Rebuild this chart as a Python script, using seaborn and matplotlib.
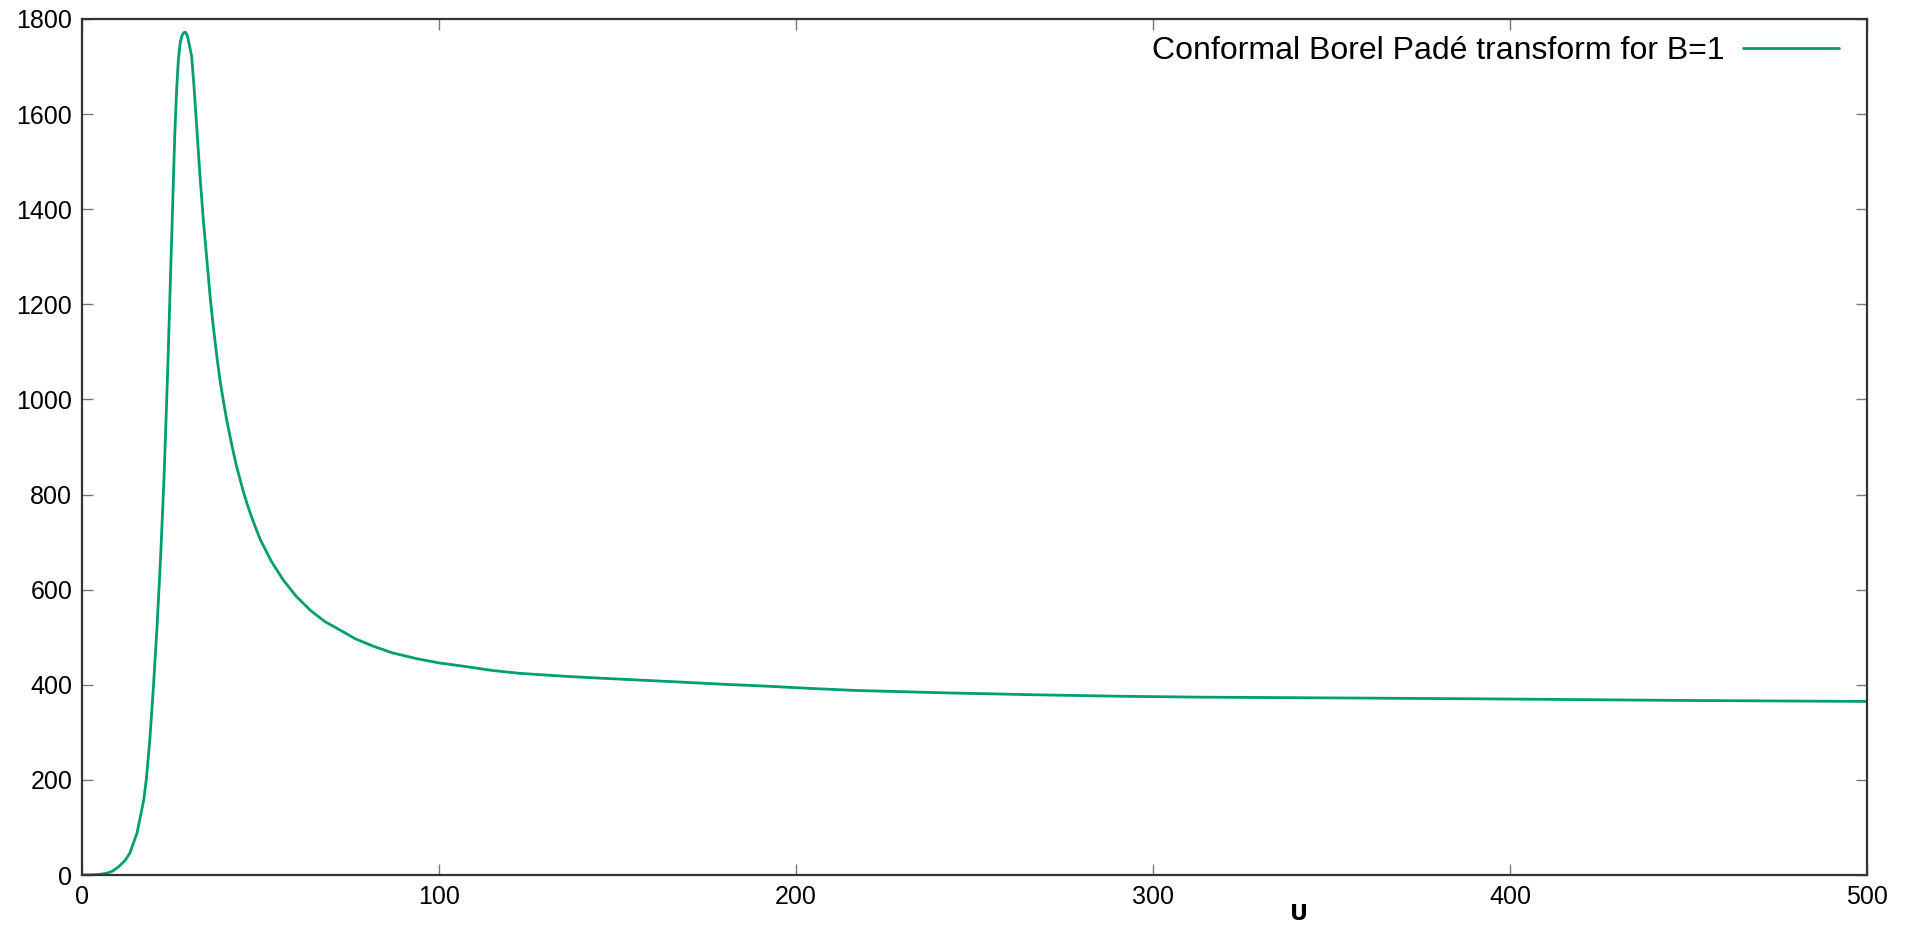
import matplotlib
matplotlib.use("Agg")
import matplotlib.pyplot as plt
import seaborn as sns
import pandas as pd

# Data
u_values = [0, 3, 5, 7, 8.5, 10.2, 12, 13.4, 15.4, 17.3, 18, 19, 20, 21, 22, 23, 24, 25,
            26, 26.5, 27, 27.5, 28, 28.5, 29, 29.5, 30, 30.7, 31.4, 32.1, 33, 34, 35, 35.9,
            36.8, 37.7, 38.6, 39.6, 40.5, 41.5, 42.4, 43.3, 44.3, 45.2, 46.3, 47.5, 48.7, 49.9,
            53, 56.4, 60, 63.9, 68, 72.3,
            76.5, 81.6, 87, 93.7, 100, 107.8, 115, 122.7, 135, 145, 156, 167, 180, 192, 205,
            217, 242, 267, 290, 313, 360, 400, 450, 500]
v_values = [0, 0.5, 1.5, 4, 8, 17, 30, 46, 88, 158, 200, 285, 395, 520, 665, 840, 1060, 1310,
            1560, 1650, 1715, 1750, 1765, 1771, 1772, 1765, 1748, 1722, 1655, 1577, 1475, 1376, 1292, 1215,
            1152, 1095, 1043, 997, 958, 921, 889, 859, 831, 806, 779, 753, 729, 706,
            660, 620, 586, 557, 533, 515,
            497, 481, 467, 455, 446, 438, 430, 424, 418, 414, 410, 406, 401, 397, 392,
            388, 383, 379, 376, 374, 372, 370, 367, 365]
series_label = "Conformal Borel Padé transform for B=1"
x_ticks = [0, 100, 200, 300, 400, 500]
y_ticks = [0, 200, 400, 600, 800, 1000, 1200, 1400, 1600, 1800]

df = pd.DataFrame({"U": u_values, "V": v_values})

sns.set_theme(style="white")
plt.rcParams['font.family'] = ['Liberation Sans', 'DejaVu Sans']
plt.rcParams['text.color'] = 'black'

fig = plt.figure(figsize=(19.16, 9.47), dpi=100)
ax = fig.add_axes([0.0428, 0.076, 0.9316, 0.904])

sns.lineplot(data=df, x="U", y="V", ax=ax, color="#009e73", linewidth=2.0,
             label=series_label, sort=False)

ax.set_xlim(0, 500)
ax.set_ylim(0, 1800)
ax.set_xticks(x_ticks)
ax.set_yticks(y_ticks)
ax.set_xticklabels([str(t) for t in x_ticks])
ax.set_yticklabels([str(t) for t in y_ticks])

for s in ax.spines.values():
    s.set_color("#333333")
    s.set_linewidth(1.6)

ax.tick_params(axis="both", which="major", direction="in", length=8, width=1,
               color="#777777", labelsize=18, labelcolor="black",
               top=True, right=True, bottom=True, left=True, pad=7)

ax.set_xlabel("U", fontsize=16, fontweight="bold", family=["DejaVu Sans"], color="black")
ax.xaxis.set_label_coords(0.682, -0.034)
ax.set_ylabel("")

leg = ax.legend(loc="upper right", frameon=False, markerfirst=False, fontsize=23,
                handlelength=3.0, handletextpad=0.6, borderaxespad=0.3,
                bbox_to_anchor=(0.997, 1.006))
for t in leg.get_texts():
    t.set_color("black")

fig.savefig("out.png", dpi=100)
